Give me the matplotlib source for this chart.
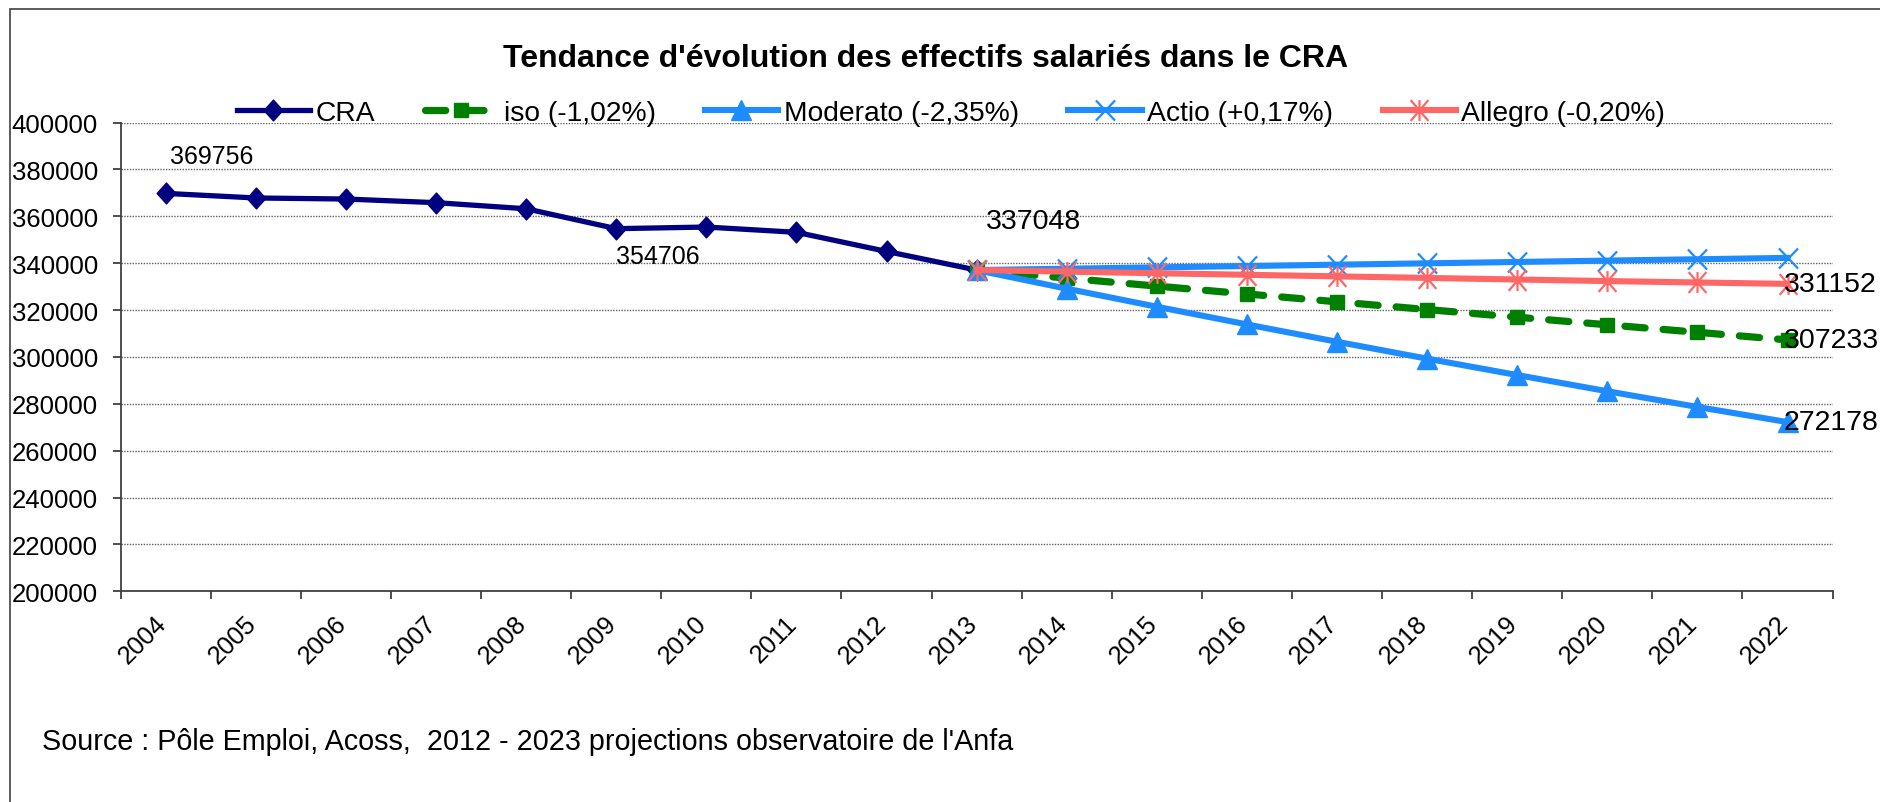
import matplotlib
matplotlib.use("Agg")
import matplotlib.pyplot as plt
import matplotlib.transforms as mtransforms
from matplotlib.path import Path
from matplotlib.patches import Rectangle
from matplotlib.lines import Line2D

plt.rcParams['font.family'] = ['Liberation Sans', 'DejaVu Sans']

# data
years = [str(y) for y in range(2004, 2023)]
cra = [369756, 367800, 367350, 365800, 363200, 354706, 355400, 353150, 345000, 337048]
iso = [337048, 333600, 330200, 326850, 323500, 320200, 316950, 313700, 310500, 307233]
moderato = [337048, 329100, 321400, 313850, 306450, 299250, 292250, 285350, 278650, 272178]
actio = [337048, 337620, 338200, 338770, 339350, 339920, 340500, 341080, 341660, 342240]
allegro = [337048, 336370, 335700, 335030, 334360, 333690, 333020, 332350, 331750, 331152]
labels = ['CRA', 'iso (-1,02%)', 'Moderato (-2,35%)', 'Actio (+0,17%)', 'Allegro (-0,20%)']
title = "Tendance d'évolution des effectifs salariés dans le CRA"
source = "Source : Pôle Emploi, Acoss,  2012 - 2023 projections observatoire de l'Anfa"

x_cra = list(range(len(cra)))
x_proj = list(range(len(cra) - 1, len(years)))

# Excel-like markers
diamond = Path([(0, 1), (0.9, 0), (0, -1), (-0.9, 0), (0, 1)],
               [Path.MOVETO, Path.LINETO, Path.LINETO, Path.LINETO, Path.CLOSEPOLY])
xmark = Path([(-0.95, -1), (0.95, 1), (-0.95, 1), (0.95, -1)],
             [Path.MOVETO, Path.LINETO, Path.MOVETO, Path.LINETO])
star = Path([(-0.85, -1), (0.85, 1), (-0.85, 1), (0.85, -1), (0, -1), (0, 1)],
            [Path.MOVETO, Path.LINETO, Path.MOVETO, Path.LINETO, Path.MOVETO, Path.LINETO])

fig = plt.figure(figsize=(18.8, 8.03), dpi=100)
W, H = 1880, 803
ax = fig.add_axes([120.7 / W, 1 - 592.3 / H, (1832.6 - 120.7) / W, (592.3 - 123.5) / H])

c_navy = '#000080'
c_green = '#008000'
c_blue = '#1E8CFF'
c_red = '#FF6666'

styles = [
    dict(color=c_navy, lw=3.8, marker=diamond, ms=15, mfc=c_navy, mec=c_navy),
    dict(color=c_green, lw=5.2, ls=(0, (2.8, 2.5)), dash_capstyle='round',
         marker='s', ms=10.5, mfc=c_green, mec=c_green),
    dict(color=c_blue, lw=4.4, marker='^', ms=14.5, mfc=c_blue, mec=c_blue),
    dict(color=c_blue, lw=4.4, marker=xmark, ms=14.5, mfc='none', mec=c_blue, mew=1.6),
    dict(color=c_red, lw=4.4, marker=star, ms=15, mfc='none', mec=c_red, mew=1.6),
]

ax.plot(x_cra, cra, zorder=3, **styles[0])
ax.plot(x_proj, iso, zorder=4, **styles[1])
ax.plot(x_proj, moderato, zorder=5, **styles[2])
ax.plot(x_proj, actio, zorder=6, **styles[3])
ax.plot(x_proj, allegro, zorder=7, **styles[4])

# data labels
ax.annotate(str(cra[0]), (0, cra[0]), xytext=(33, 27), textcoords='offset points',
            ha='center', va='center', fontsize=18)
ax.annotate(str(cra[5]), (5, cra[5]), xytext=(30, -20), textcoords='offset points',
            ha='center', va='center', fontsize=18)
ax.annotate(str(cra[-1]), (9, cra[-1]), xytext=(41, 35), textcoords='offset points',
            ha='center', va='center', fontsize=20.5)
for serie in (allegro, iso, moderato):
    ax.annotate(str(serie[-1]), (x_proj[-1], serie[-1]), xytext=(-2.5, 0), textcoords='offset points',
                ha='left', va='center', fontsize=20.5, zorder=10, annotation_clip=False)

ax.set_xlim(-0.5, len(years) - 0.5)
ax.set_ylim(200000, 400000)
ax.set_yticks(range(200000, 400001, 20000))
ax.set_yticklabels([str(v) for v in range(200000, 400001, 20000)])
ax.tick_params(axis='y', direction='out', length=5.5, width=1.3, color='#404040', pad=11, labelsize=18.5)

ax.set_xticks([i - 0.5 for i in range(len(years) + 1)])
ax.set_xticklabels([])
ax.set_xticks(range(len(years)), minor=True)
ax.set_xticklabels(years, minor=True, rotation=45, ha='right', fontsize=18.3)
ax.tick_params(axis='x', which='major', direction='out', length=5.8, width=1.3, color='#404040')
ax.tick_params(axis='x', which='minor', length=0, pad=14)
shift = mtransforms.ScaledTranslation(0.05, 0, fig.dpi_scale_trans)
for lab in ax.get_xticklabels(minor=True):
    lab.set_transform(lab.get_transform() + shift)

ax.yaxis.grid(True, ls=(0, (1, 1)), color='#606060', lw=1)
ax.set_axisbelow(True)
for s in ('top', 'right'):
    ax.spines[s].set_visible(False)
for s in ('left', 'bottom'):
    ax.spines[s].set_color('#404040')
    ax.spines[s].set_linewidth(1.3)

# legend
handles = [Line2D([], [], **st) for st in styles]
fig.legend(handles, labels, loc='center', bbox_to_anchor=(951 / W, 1 - 114 / H), ncol=5,
           frameon=False, fontsize=20.3, handlelength=2.6, handletextpad=0.2,
           columnspacing=1.75, numpoints=1)

fig.text(926 / W, 1 - 59 / H, title, ha='center', va='center', fontsize=23, fontweight='bold')
fig.text(42 / W, 1 - 742 / H, source, ha='left', va='center', fontsize=20.7)

# chart area border
fig.patches.append(Rectangle((10 / W, -0.2), 1.5, 1 - 10 / H + 0.2, transform=fig.transFigure,
                             fill=False, ec='#404040', lw=1.2))

fig.savefig('out.png', dpi=100)
